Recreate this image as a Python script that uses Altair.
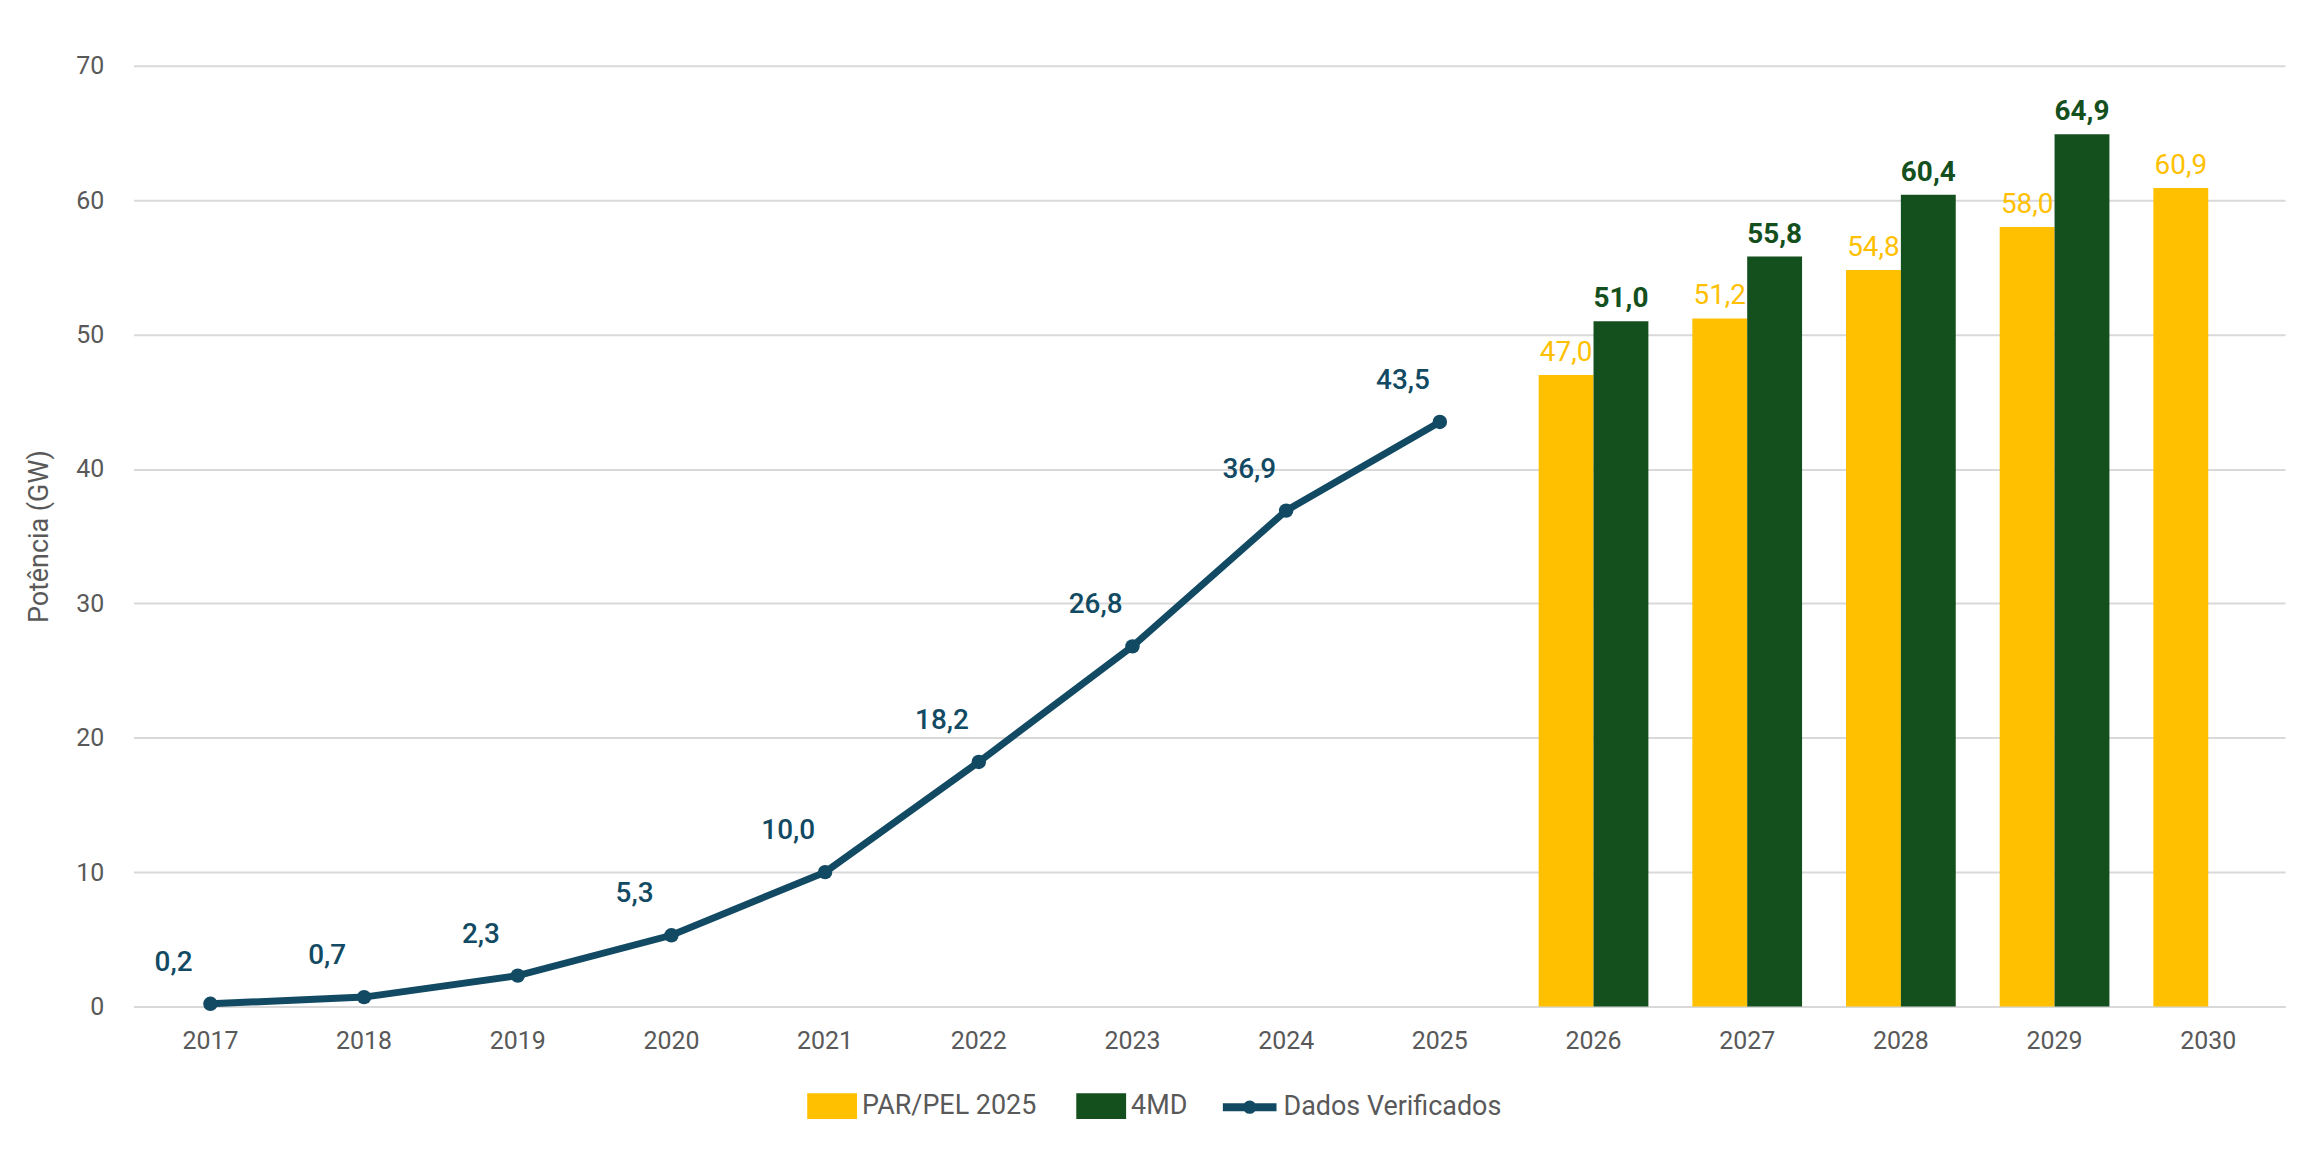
import altair as alt
import pandas as pd

# ---- data ----
years = [str(y) for y in range(2017, 2031)]
verif_years = ["2017", "2018", "2019", "2020", "2021", "2022", "2023", "2024", "2025"]
verif_values = [0.2, 0.7, 2.3, 5.3, 10.0, 18.2, 26.8, 36.9, 43.5]
par_years = ["2026", "2027", "2028", "2029", "2030"]
par_values = [47.0, 51.2, 54.8, 58.0, 60.9]
md_years = ["2026", "2027", "2028", "2029"]
md_values = [51.0, 55.8, 60.4, 64.9]
bar_series = ["PAR/PEL 2025", "4MD"]
line_series = "Dados Verificados"
y_ticks = [0, 10, 20, 30, 40, 50, 60, 70]

YELLOW = "#FFC000"
GREEN = "#14501E"
BLUE = "#124A63"
GRID = "#D9D9D9"
TXT = "#595959"
FONT = "Roboto, sans-serif"


def fmt(v):
    return f"{v:.1f}".replace(".", ",")


line_df = pd.DataFrame({
    "ano": verif_years,
    "valor": verif_values,
    "serie": [line_series] * len(verif_years),
    "rotulo": [fmt(v) for v in verif_values],
})
bar_df = pd.DataFrame({
    "ano": par_years + md_years,
    "valor": par_values + md_values,
    "serie": [bar_series[0]] * len(par_years) + [bar_series[1]] * len(md_years),
    "rotulo": [fmt(v) for v in par_values + md_values],
})

x_enc = alt.X(
    "ano:N",
    scale=alt.Scale(domain=years, paddingInner=0.286, paddingOuter=0.143),
    axis=alt.Axis(title=None, labelAngle=0, ticks=False, domain=True,
                  domainColor=GRID, domainWidth=2, labelPadding=22, grid=False),
)
y_enc = alt.Y(
    "valor:Q",
    scale=alt.Scale(domain=[0, 70], nice=False),
    axis=alt.Axis(title="Potência (GW)", values=y_ticks, grid=True, gridColor=GRID,
                  gridWidth=2, domain=False, ticks=False, labelPadding=30,
                  titlePadding=22),
)
x_off = alt.XOffset("serie:N", scale=alt.Scale(domain=bar_series, paddingInner=0, paddingOuter=0))

bars = alt.Chart(bar_df).mark_bar().encode(
    x=x_enc,
    xOffset=x_off,
    y=y_enc,
    color=alt.Color(
        "serie:N",
        scale=alt.Scale(domain=bar_series, range=[YELLOW, GREEN]),
        legend=alt.Legend(title=None, orient="none", direction="horizontal",
                          legendX=676, legendY=1019,
                          symbolType="M-1,-0.52H1V0.52H-1Z", symbolSize=2500,
                          symbolStrokeWidth=0, labelOffset=5, columnPadding=40,
                          labelLimit=0),
    ),
)

par_labels = alt.Chart(bar_df).transform_filter(
    alt.datum.serie == bar_series[0]
).mark_text(baseline="bottom", dy=-8, fontSize=28, color=YELLOW, font=FONT).encode(
    x=x_enc, xOffset=x_off, y=y_enc, text="rotulo:N"
)
md_labels = alt.Chart(bar_df).transform_filter(
    alt.datum.serie == bar_series[1]
).mark_text(baseline="bottom", dy=-8, fontSize=28, color=GREEN, fontWeight="bold",
            font=FONT).encode(
    x=x_enc, xOffset=x_off, y=y_enc, text="rotulo:N"
)

line = alt.Chart(line_df).mark_line(strokeWidth=7).encode(
    x=x_enc,
    y=y_enc,
    stroke=alt.Stroke(
        "serie:N",
        scale=alt.Scale(domain=[line_series], range=[BLUE]),
        legend=alt.Legend(title=None, orient="none", direction="horizontal",
                          legendX=1089, legendY=1014,
                          symbolType="M-1,0H1M-0.1,0A0.1,0.1,0,1,0,0.1,0A0.1,0.1,0,1,0,-0.1,0",
                          symbolSize=2900, symbolStrokeWidth=8, labelOffset=3,
                          labelLimit=0),
    ),
)
points = alt.Chart(line_df).mark_circle(size=210, color=BLUE, opacity=1).encode(
    x=x_enc, y=y_enc
)
line_labels = alt.Chart(line_df).mark_text(
    dx=-37, dy=-41, baseline="middle", fontSize=28, color=BLUE, fontWeight=500, font=FONT
).encode(x=x_enc, y=y_enc, text="rotulo:N")

chart = alt.layer(bars, line, points, par_labels, md_labels, line_labels).properties(
    width=2159,
    height=944,
    autosize=alt.AutoSizeParams(type="none"),
    padding={"left": 126, "top": 56, "right": 22, "bottom": 143},
).configure_view(stroke=None).configure_axis(
    labelFont=FONT, titleFont=FONT, labelFontSize=25, titleFontSize=27,
    labelColor=TXT, titleColor=TXT, titleFontWeight="normal",
).configure_legend(
    labelFont=FONT, labelFontSize=27, labelColor=TXT,
)

chart.save("out.html", embed_options={"renderer": "svg", "actions": False})
